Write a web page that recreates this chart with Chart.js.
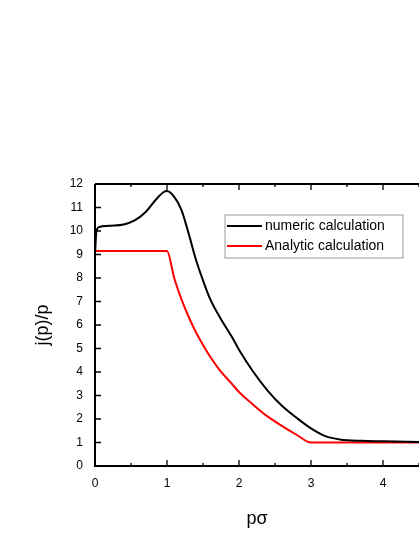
<!DOCTYPE html><html><head><style>html,body{margin:0;padding:0;background:#fff;overflow:hidden}#w{position:absolute;left:0;top:0;width:419px;height:542px}</style>
<script src="https://cdn.jsdelivr.net/npm/chart.js@4"></script></head><body><div id="w"><canvas id="c"></canvas></div>
<script>
const numericX=[0,0.02,0.06,0.2,0.4,0.55,0.7,0.85,0.95,1.0,1.1,1.2,1.3,1.4,1.5,1.6,1.74,1.9,2,2.2,2.4,2.6,2.8,3,3.2,3.4,3.7,4,4.5];
const numericY=[9.0,10.0,10.17,10.22,10.28,10.45,10.8,11.35,11.65,11.7,11.45,10.9,9.9,8.8,7.9,7.1,6.3,5.5,4.95,4.0,3.2,2.55,2.05,1.6,1.27,1.13,1.07,1.05,1.02];
const analyticX=[0,1.0,1.1,1.2,1.3,1.4,1.5,1.6,1.74,1.9,2,2.2,2.4,2.6,2.8,3,4.5];
const analyticY=[9.15,9.15,8.0,7.1,6.35,5.7,5.15,4.65,4.05,3.5,3.15,2.6,2.1,1.7,1.33,1.0,1.0];
const xTicks=[0,1,2,3,4];
const yTicks=[0,1,2,3,4,5,6,7,8,9,10,11,12];
const F='"Liberation Sans", Arial, sans-serif';
const pts=(xs,ys)=>xs.map((x,i)=>({x,y:ys[i]}));
const deco={id:'deco',afterDraw(ch){const c=ch.ctx,a=ch.chartArea,xs=ch.scales.x,ys=ch.scales.y;c.save();c.strokeStyle='#000';c.lineWidth=2;
c.beginPath();c.moveTo(a.left,a.top);c.lineTo(a.left,a.bottom);c.lineTo(a.right+2,a.bottom);c.moveTo(a.left,a.top);c.lineTo(a.right+2,a.top);c.stroke();
c.lineWidth=1.3;c.beginPath();
for(let v=0;v<=4.5;v+=0.5){const p=xs.getPixelForValue(v);const L=Number.isInteger(v)?6:3;c.moveTo(p,a.bottom);c.lineTo(p,a.bottom-L);c.moveTo(p,a.top);c.lineTo(p,a.top+L);}
for(const v of yTicks){const p=ys.getPixelForValue(v);c.moveTo(a.left,p);c.lineTo(a.left+6,p);}
c.stroke();
const lx=225,ly=215,lw=178,lh=43;c.fillStyle='#fff';c.fillRect(lx,ly,lw,lh);c.strokeStyle='#999';c.lineWidth=1;c.strokeRect(lx,ly,lw,lh);
c.font='14px '+F;c.textBaseline='middle';
ch.data.datasets.forEach((d,i)=>{const yy=ly+11+i*20;c.strokeStyle=d.borderColor;c.lineWidth=2;c.beginPath();c.moveTo(lx+2,yy);c.lineTo(lx+37,yy);c.stroke();c.fillStyle='#000';c.fillText(d.label,lx+40,yy);});
c.restore();}};
new Chart(document.getElementById('c'),{type:'line',data:{datasets:[
{label:'numeric calculation',data:pts(numericX,numericY),borderColor:'#000',borderWidth:2,pointRadius:0,cubicInterpolationMode:'monotone'},
{label:'Analytic calculation',data:pts(analyticX,analyticY),borderColor:'#f00',borderWidth:2,pointRadius:0,cubicInterpolationMode:'monotone'}]},
plugins:[deco],
options:{responsive:true,maintainAspectRatio:false,animation:false,layout:{padding:{top:184,right:0,left:28,bottom:8}},
plugins:{legend:{display:false},tooltip:{enabled:false}},
scales:{x:{type:'linear',min:0,max:4.5,afterBuildTicks(s){s.ticks=xTicks.map(v=>({value:v}));},afterFit(s){s.height=68;},grid:{display:false},border:{display:false},
ticks:{font:{family:F,size:12},color:'#000',padding:2},title:{display:true,text:'pσ',font:{family:F,size:18},color:'#000',padding:{top:12}}},
y:{min:0,max:12,afterBuildTicks(s){s.ticks=yTicks.map(v=>({value:v}));},afterFit(s){s.width=67;},grid:{display:false},border:{display:false},
ticks:{font:{family:F,size:12},color:'#000',padding:4},title:{display:true,text:'j(p)/p',font:{family:F,size:18},color:'#000'}}}}});
</script></body></html>
